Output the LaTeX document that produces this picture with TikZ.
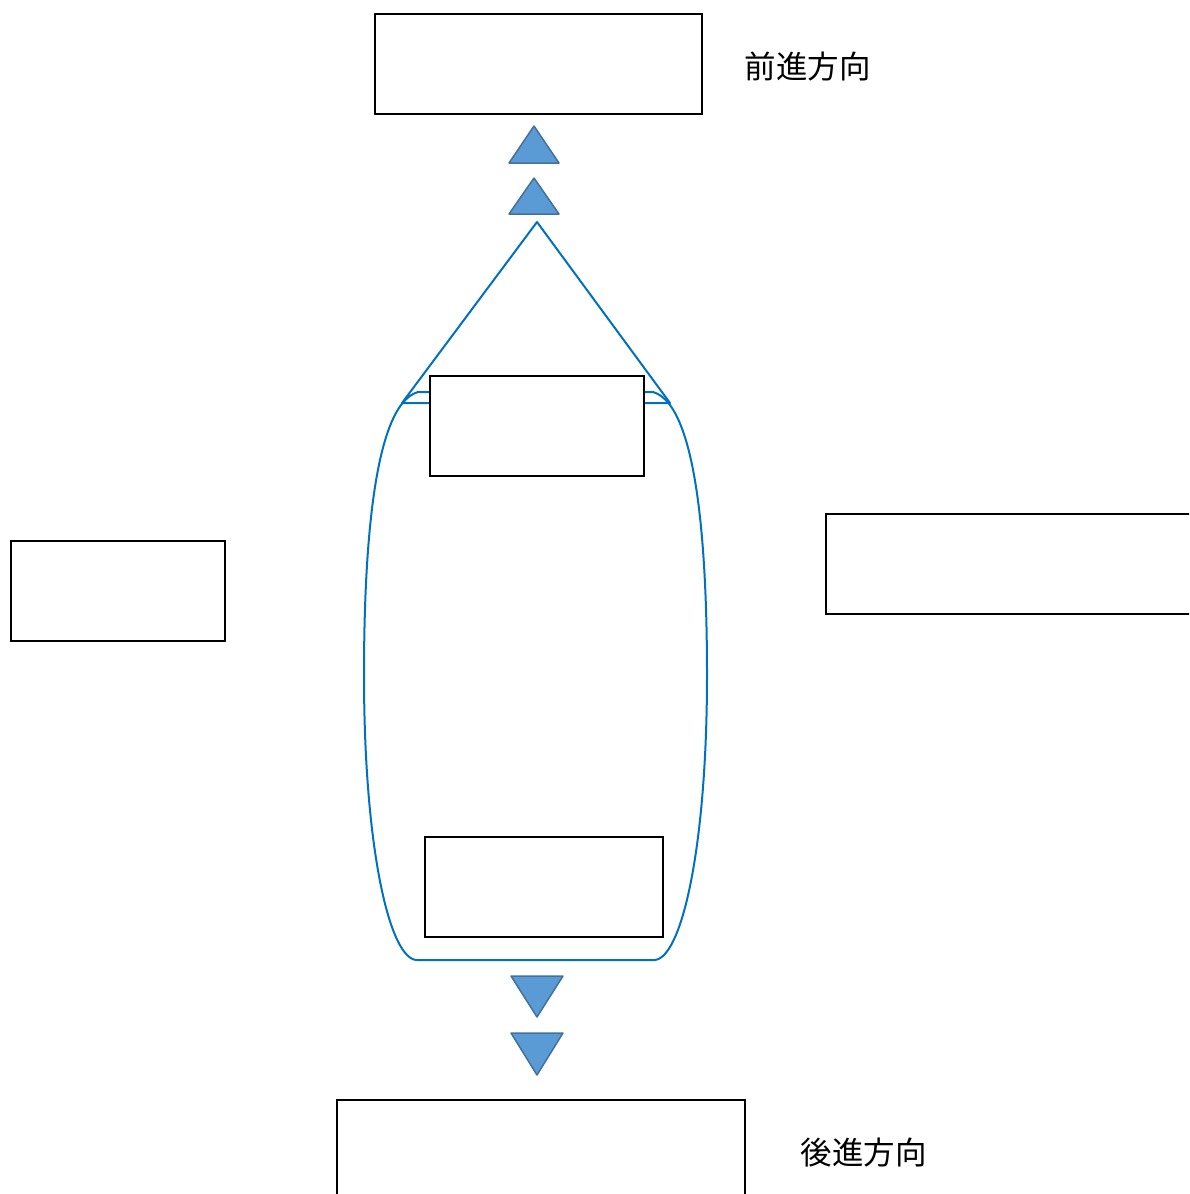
\documentclass[tikz,border=0pt]{standalone}
\usepackage{fontspec}
\newfontfamily\jpfont{Noto Sans CJK JP}
\begin{document}
\begin{tikzpicture}[x=1pt,y=-1pt,
  box/.style={draw=black,line width=2pt,fill=white,inner sep=0pt,anchor=north west},
  arrowtri/.style={draw=arrowline,fill=arrowfill,line width=1.5pt,line join=round},
  hull/.style={draw=hullblue,line width=2pt,line join=round},
  lbl/.style={font=\jpfont\fontsize{31.5}{36}\selectfont,inner sep=0pt}]
\definecolor{arrowfill}{HTML}{5B9BD5}
\definecolor{arrowline}{HTML}{41719C}
\definecolor{hullblue}{HTML}{0070C0}
\useasboundingbox (0,0) rectangle (1189,1194);
\clip (0,0) rectangle (1189,1194);
% boxes outside
\node[box,minimum width=327pt,minimum height=100pt] (front) at (374,13) {};
\node[box,minimum width=214pt,minimum height=100pt] (left) at (10,540) {};
\node[box,minimum width=380pt,minimum height=100pt] (right) at (825,513) {};
\node[box,minimum width=408pt,minimum height=110pt] (back) at (336,1099) {};
% labels
\node[lbl] (fwd) at (807.5,67) {前進方向};
\node[lbl] (bwd) at (863.5,1153) {後進方向};
% up triangles
\draw[arrowtri] (534,126) -- (559,163) -- (509,163) -- cycle;
\draw[arrowtri] (534,178) -- (559,214) -- (509,214) -- cycle;
% down triangles
\draw[arrowtri] (511,976) -- (563,976) -- (537,1017) -- cycle;
\draw[arrowtri] (511,1033) -- (563,1033) -- (537,1075) -- cycle;
% hull
\draw[hull] (537,222) -- (402,403) -- (670,403) -- cycle;
\draw[hull] (653,392) .. controls (699,405) and (707,560) .. (707,675)
  .. controls (707,850) and (681,960) .. (654,960) -- (417,960)
  .. controls (390,960) and (364,850) .. (364,675)
  .. controls (364,560) and (372,405) .. (418,392) -- cycle;
% inner boxes
\node[box,minimum width=214pt,minimum height=100pt] (cab) at (429,375) {};
\node[box,minimum width=238pt,minimum height=100pt] (rear) at (424,836) {};
\end{tikzpicture}
\end{document}
